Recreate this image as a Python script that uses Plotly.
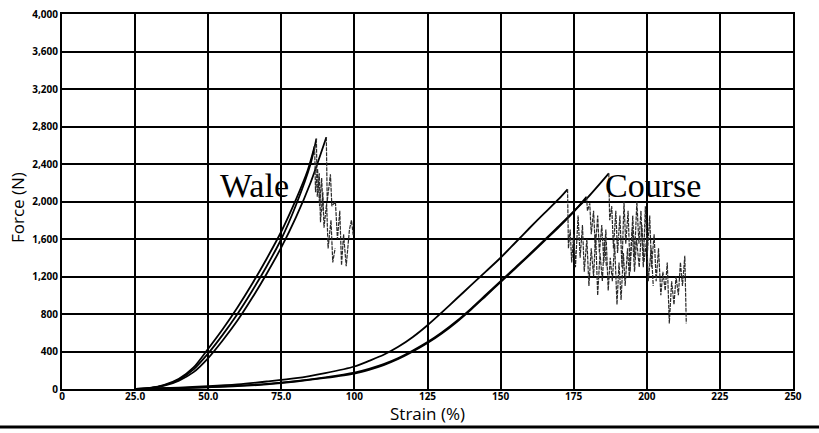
import plotly.graph_objects as go

# ---- Data ----
wale_a_strain = [25.5, 30, 35, 40, 45, 50, 55, 60, 65, 70, 75, 80, 84, 86.4]
wale_a_force = [0, 12, 45, 110, 230, 430, 640, 870, 1120, 1390, 1680, 2020, 2330, 2590]
wale_b_strain = [26, 30, 35, 40, 45, 50, 55, 60, 65, 70, 75, 80, 85, 87.0]
wale_b_force = [0, 10, 40, 100, 210, 380, 580, 800, 1045, 1310, 1600, 1960, 2400, 2670]
wale_c_strain = [26, 30, 35, 40, 45, 50, 55, 60, 65, 70, 75, 80, 85, 90.4]
wale_c_force = [0, 8, 35, 90, 180, 330, 520, 730, 970, 1230, 1510, 1830, 2200, 2685]

wale_brk1_strain = [86.4, 86.7, 87.4, 88.1, 88.8, 89.3]
wale_brk1_force = [2590, 2100, 2350, 1950, 2250, 1900]
wale_brk2_strain = [87.0, 87.3, 88.0, 88.4, 89.2, 89.6, 90.5, 91.0, 92.0, 92.6, 93.4]
wale_brk2_force = [2670, 2050, 2300, 1780, 2100, 1720, 1980, 1500, 1800, 1350, 1500]
wale_brk3_strain = [90.4, 90.7, 91.8, 92.3, 93.5, 94.2, 95.0, 95.6, 96.3, 97.2, 98.3, 99.0, 99.6]
wale_brk3_force = [2685, 2000, 2290, 1950, 2000, 1600, 1900, 1320, 1650, 1310, 1700, 1800, 1640]

course_a_strain = [25, 40, 50, 60, 70, 80, 90, 100, 105, 110, 115, 120, 125, 130, 135, 140, 145, 150,
                   155, 160, 165, 170, 172.9]
course_a_force = [0, 15, 30, 50, 80, 115, 170, 240, 300, 365, 450, 555, 680, 820, 965, 1110, 1255, 1400,
                  1560, 1720, 1875, 2030, 2130]
course_b_strain = [25, 40, 50, 60, 70, 80, 90, 100, 105, 110, 115, 120, 125, 130, 135, 140, 145, 150,
                   155, 160, 165, 170, 175, 180, 187.0]
course_b_force = [0, 10, 20, 35, 55, 85, 125, 175, 215, 265, 330, 410, 500, 605, 725, 860, 1005, 1150,
                  1295, 1440, 1590, 1740, 1895, 2050, 2300]
course_c_strain = [25, 40, 50, 60, 70, 80, 90, 100, 105, 110, 115, 120, 125, 130, 135, 140, 145, 150,
                   155, 160, 165, 170, 175, 179.4]
course_c_force = [0, 8, 18, 30, 50, 80, 118, 165, 205, 255, 320, 400, 490, 595, 715, 850, 995, 1140,
                  1285, 1430, 1580, 1730, 1890, 2050]

course_brk1_strain = [172.9, 173.2, 173.8, 174.3, 175.0, 175.6, 176.5, 177.2, 178.0, 178.6, 179.5,
                      180.2, 181.0, 181.8, 182.5, 183.2, 184.0, 184.8, 185.5, 186.2]
course_brk1_force = [2130, 1500, 1700, 1350, 1650, 1300, 1850, 1400, 1750, 1250, 1600,
                     1100, 1500, 1200, 1650, 1000, 1450, 1150, 1600, 1300]
course_brk2_strain = [179.4, 179.7, 180.5, 181.0, 181.8, 182.4, 183.2, 183.8, 184.6, 185.3, 186.0,
                      186.8, 187.5, 188.2, 189.0, 189.8, 190.5, 191.2, 192.0, 192.6, 193.4, 194.0,
                      195.0, 195.8, 196.5, 197.4, 198.3, 199.0, 200.0, 200.5, 201.5, 202.2]
course_brk2_force = [2050, 1900, 1980, 1650, 1900, 1500, 1850, 1450, 1750, 1350, 1700,
                     1050, 1400, 1150, 1550, 900, 1350, 950, 1450, 1100, 1500, 1200,
                     1700, 1250, 1600, 1300, 1750, 1350, 1600, 1150, 1500, 1100]
course_brk3_strain = [187.0, 187.3, 188.0, 188.6, 189.4, 190.0, 190.8, 191.5, 192.2, 192.8, 193.6,
                      194.3, 195.2, 195.8, 196.6, 197.3, 198.0, 198.8, 199.5, 200.2, 201.0, 201.6,
                      202.5, 203.2, 204.0, 204.8, 205.5, 206.3, 207.0, 207.7, 208.5, 209.3, 210.0,
                      210.8, 211.5, 212.2, 213.0, 213.5]
course_brk3_force = [2300, 1800, 1950, 1500, 1900, 1450, 1850, 1300, 2000, 1550, 1900,
                     1250, 1850, 1400, 2000, 1550, 1900, 1300, 1950, 1450, 1850, 1300,
                     1650, 1150, 1500, 1000, 1250, 1050, 1350, 700, 1150, 900, 1200,
                     1000, 1350, 1100, 1420, 700]

x_tickvals = [0, 25, 50, 75, 100, 125, 150, 175, 200, 225, 250]
x_ticktext = ["0", "25.0", "50.0", "75.0", "100", "125", "150", "175", "200", "225", "250"]
y_tickvals = [0, 400, 800, 1200, 1600, 2000, 2400, 2800, 3200, 3600, 4000]
y_ticktext = ["0", "400", "800", "1,200", "1,600", "2,000", "2,400", "2,800", "3,200", "3,600", "4,000"]

labels = [("Wale", 66, 2170), ("Course", 202, 2170)]
x_title = "Strain (%)"
y_title = "Force (N)"

# ---- Figure ----
fig = go.Figure()

smooth = [(wale_a_strain, wale_a_force), (wale_b_strain, wale_b_force), (wale_c_strain, wale_c_force),
          (course_a_strain, course_a_force), (course_b_strain, course_b_force), (course_c_strain, course_c_force)]
for xs, ys in smooth:
    fig.add_trace(go.Scatter(x=xs, y=ys, mode="lines",
                             line=dict(color="black", width=1.8, shape="spline", smoothing=0.8),
                             showlegend=False, hoverinfo="skip"))

noisy = [(wale_brk1_strain, wale_brk1_force), (wale_brk2_strain, wale_brk2_force), (wale_brk3_strain, wale_brk3_force),
         (course_brk1_strain, course_brk1_force), (course_brk2_strain, course_brk2_force), (course_brk3_strain, course_brk3_force)]
for xs, ys in noisy:
    fig.add_trace(go.Scatter(x=xs, y=ys, mode="lines",
                             line=dict(color="#2a2a2a", width=1.2, dash="4px,1px"),
                             showlegend=False, hoverinfo="skip"))

for text, sx, fy in labels:
    fig.add_annotation(x=sx, y=fy, xref="x", yref="y", text=text, showarrow=False,
                       font=dict(family="Liberation Serif", size=34, color="black"))

# axis titles
fig.add_annotation(x=0.5, y=-0.066, xref="paper", yref="paper", text=x_title, showarrow=False,
                   xanchor="center", yanchor="middle", font=dict(family="Open Sans", size=17, color="black"))
fig.add_annotation(x=-0.060, y=0.483, xref="paper", yref="paper", text=y_title, showarrow=False, textangle=-90,
                   xanchor="center", yanchor="middle", font=dict(family="Open Sans", size=17, color="black"))

# bottom border bar of the scanned figure
fig.add_shape(type="line", xref="paper", yref="paper", x0=-0.09, x1=1.04, y0=-0.101, y1=-0.101,
              line=dict(color="black", width=3))

tickfont = dict(family="Open Sans", size=10, color="black", weight="bold")
fig.update_layout(
    width=819, height=433,
    margin=dict(l=62, r=26, t=14, b=44),
    paper_bgcolor="white", plot_bgcolor="white",
    font=dict(family="Open Sans", color="black"),
    xaxis=dict(range=[0, 250], tickvals=x_tickvals, ticktext=x_ticktext, tickfont=tickfont,
               showgrid=True, gridcolor="black", gridwidth=2, zeroline=False, automargin=False,
               showline=True, linecolor="black", linewidth=2, mirror=True, ticks="", ticklabelstandoff=-3),
    yaxis=dict(range=[0, 4000], tickvals=y_tickvals, ticktext=y_ticktext, tickfont=tickfont,
               showgrid=True, gridcolor="black", gridwidth=2, zeroline=False, automargin=False,
               showline=True, linecolor="black", linewidth=2, mirror=True, ticks=""),
)

fig.write_html("out.html", config={"displayModeBar": False},
               post_script="document.body.style.margin='0';document.body.style.overflow='hidden';")
